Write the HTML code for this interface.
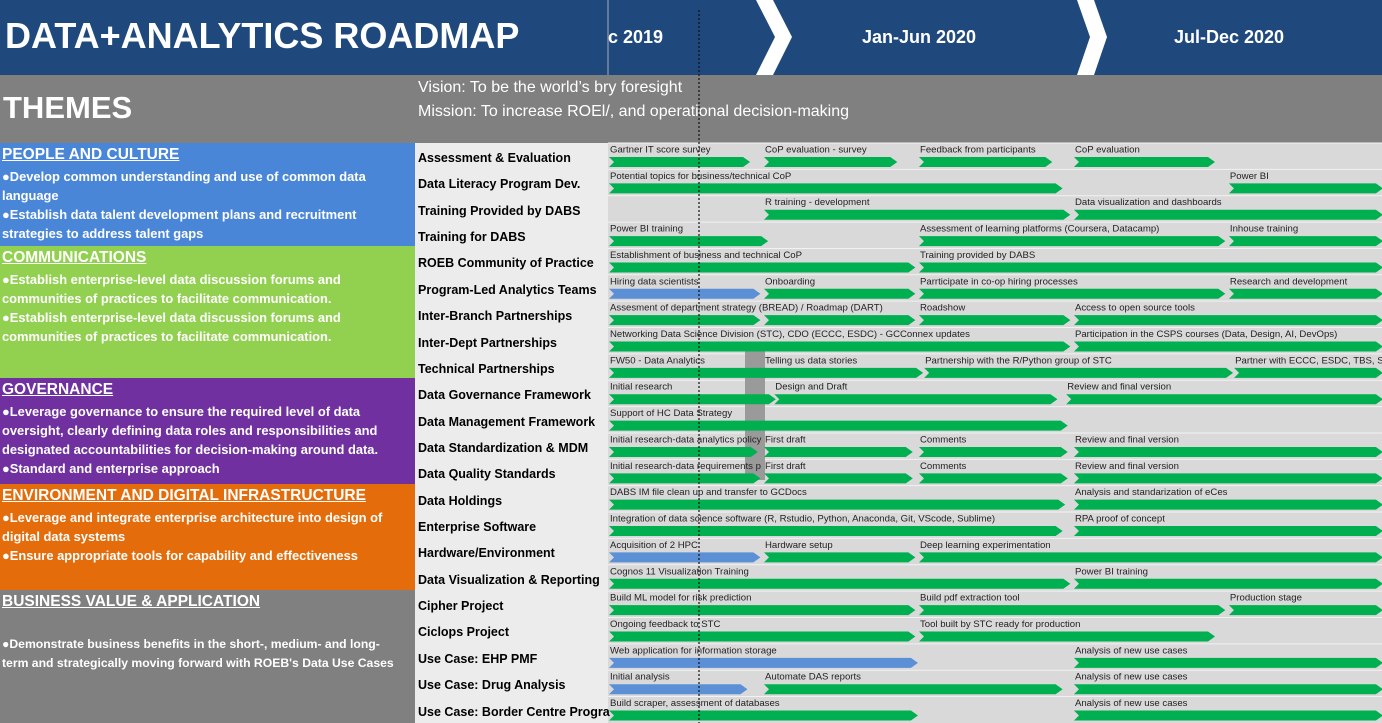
<!DOCTYPE html>
<html><head><meta charset="utf-8"><style>
body{margin:0;width:1382px;height:723px;overflow:hidden;font-family:"Liberation Sans",sans-serif;background:#d9d9d9;position:relative}
.abs{position:absolute}
.theme{position:absolute;left:0;width:405px;color:#fff;font-weight:bold;font-size:12.9px;line-height:19px;padding:2px 0 0 2px;box-sizing:border-box}
.theme h3{margin:0 0 2px 0;font-size:15.5px;text-decoration:underline;line-height:20px;white-space:nowrap}
.rl{position:absolute;left:418px;font-size:12.5px;font-weight:bold;color:#000;white-space:nowrap}
</style></head><body>
<div class="abs" style="left:0;top:0;width:1382px;height:75px;background:#1f497d"></div>
<div class="abs" style="left:5px;top:15px;color:#fff;font-weight:bold;font-size:36px">DATA+ANALYTICS ROADMAP</div>
<div class="abs" style="left:608px;top:27px;color:#fff;font-weight:bold;font-size:18px">c 2019</div>
<div class="abs" style="left:862px;top:27px;color:#fff;font-weight:bold;font-size:18px">Jan-Jun 2020</div>
<div class="abs" style="left:1174px;top:27px;color:#fff;font-weight:bold;font-size:18px">Jul-Dec 2020</div>
<svg class="abs" style="left:0;top:0" width="1382" height="723">
<polygon points="756,0 773,0 792,37 773,75 756,75 775,37" fill="#fff"/>
<polygon points="1077,0 1094,0 1107,37 1094,75 1077,75 1090,37" fill="#fff"/>
<line x1="608" y1="0" x2="608" y2="143" stroke="#aab" stroke-width="1"/>
</svg>
<div class="abs" style="left:0;top:75px;width:1382px;height:68px;background:#808080"></div>
<div class="abs" style="left:3px;top:90px;color:#fff;font-weight:bold;font-size:31px">THEMES</div>
<div class="abs" style="left:418px;top:79px;color:#fff;font-size:16px">Vision: To be the world’s bry foresight</div>
<div class="abs" style="left:418px;top:103px;color:#fff;font-size:16px">Mission: To increase ROEl/, and operational decision-making</div>

<div class="abs" style="left:415px;top:143px;width:193px;height:580px;background:#ececec"></div>

<div class="theme" style="top:143px;height:103px;width:415px;padding-right:30px;background:#4a86d8"><h3>PEOPLE AND CULTURE</h3>●Develop common understanding and use of common data language<br>●Establish data talent development plans and recruitment strategies to address talent gaps</div>
<div class="theme" style="top:246px;height:132px;width:415px;padding-right:70px;background:#92d050"><h3>COMMUNICATIONS</h3>●Establish enterprise-level data discussion forums and communities of practices to facilitate communication.<br>●Establish enterprise-level data discussion forums and communities of practices to facilitate communication.</div>
<div class="theme" style="top:378px;height:106px;width:415px;padding-right:35px;background:#7030a0"><h3>GOVERNANCE</h3>●Leverage governance to ensure the required level of data oversight, clearly defining data roles and responsibilities and designated accountabilities for decision-making around data.<br>●Standard and enterprise approach</div>
<div class="theme" style="top:484px;height:106px;width:415px;padding-right:25px;background:#e46c0a"><h3>ENVIRONMENT AND DIGITAL INFRASTRUCTURE</h3>●Leverage and integrate enterprise architecture into design of digital data systems<br>●Ensure appropriate tools for capability and effectiveness</div>
<div class="theme" style="top:590px;height:133px;width:415px;padding-right:0;font-size:12.2px;background:#808080"><h3>BUSINESS VALUE &amp; APPLICATION</h3><div style="height:21px"></div>●Demonstrate business benefits in the short-, medium- and long-<br>term and strategically moving forward with ROEB's Data Use Cases</div>

<div id="labels"></div>
<svg id="g" class="abs" style="left:0;top:0" width="1382" height="723"></svg>
<script>
const rowLabels=["Assessment & Evaluation","Data Literacy Program Dev.","Training Provided by DABS","Training for DABS","ROEB Community of Practice","Program-Led Analytics Teams","Inter-Branch Partnerships","Inter-Dept Partnerships","Technical Partnerships","Data Governance Framework","Data Management Framework","Data Standardization & MDM","Data Quality Standards","Data Holdings","Enterprise Software","Hardware/Environment","Data Visualization & Reporting","Cipher Project","Ciclops Project","Use Case: EHP PMF","Use Case: Drug Analysis","Use Case: Border Centre Progra"];
const taskRows=[0,0,0,0,1,1,2,2,3,3,3,4,4,5,5,5,5,6,6,6,6,7,7,8,8,8,8,9,9,9,10,11,11,11,11,12,12,12,12,13,13,14,14,15,15,15,16,16,17,17,17,18,18,19,19,20,20,20,21,21];
const taskStart=[0,6,12,18,0,24,6,18,0,12,24,0,12,0,6,12,24,0,6,12,18,0,18,0,6,12.2,24.2,0,6.4,17.7,0,0,6,12,18,0,6,12,18,0,18,0,18,0,6,12,0,18,0,12,24,0,12,0,18,0,6,18,0,18];
const taskEnd=[5.5,11.2,17.2,23.5,17.6,30,17.9,30,6.2,23.9,30,11.9,30,5.9,11.9,23.9,30,5.9,11.9,17.9,30,17.9,30,6.4,12.2,24.2,30,6.5,17.4,30,17.8,5.8,11.8,17.8,30,5.9,11.8,17.8,30,17.7,30,17.6,30,5.9,11.9,30,17.9,30,11.9,23.9,30,11.9,23.5,12,30,5.4,17.6,30,12,30];
const taskKind=["g","g","g","g","g","g","g","g","g","g","g","g","g","b","g","g","g","g","g","g","g","g","g","g","g","g","g","g","g","g","g","g","g","g","g","g","g","g","g","g","g","g","g","b","g","g","g","g","g","g","g","g","g","b","g","b","g","g","g","g"];
const taskLabel=["Gartner IT score survey","CoP evaluation - survey","Feedback from participants","CoP evaluation","Potential topics for business/technical CoP","Power BI","R training - development","Data visualization and dashboards","Power BI training","Assessment of learning platforms (Coursera, Datacamp)","Inhouse training","Establishment of business and technical CoP","Training provided by DABS","Hiring data scientists","Onboarding","Parrticipate in co-op hiring processes","Research and development","Assesment of department strategy (BREAD) / Roadmap (DART)","","Roadshow","Access to open source tools","Networking Data Science Division (STC), CDO (ECCC, ESDC) - GCConnex updates","Participation in the CSPS courses (Data, Design, AI, DevOps)","FW50 - Data Analytics","Telling us data stories","Partnership with the R/Python group of STC","Partner with ECCC, ESDC, TBS, STC C","Initial research","Design and Draft","Review and final version","Support of HC Data Strategy","Initial research-data analytics policy","First draft","Comments","Review and final version","Initial research-data requirements p","        First draft","Comments","Review and final version","DABS IM file clean up and transfer to GCDocs","Analysis and standarization of eCes","Integration of data science software (R, Rstudio, Python, Anaconda, Git, VScode, Sublime)","RPA proof  of concept","Acquisition of 2 HPC","Hardware setup","Deep learning experimentation","Cognos 11 Visualization Training","Power BI training","Build ML model for risk prediction","Build pdf extraction tool","Production stage","Ongoing feedback to STC","Tool built by STC ready for production","Web application for information storage","Analysis of new use cases","Initial analysis","Automate DAS reports","Analysis of new use cases","Build scraper, assessment of databases","Analysis of new use cases"];
const X0=608,PX=25.83,Y0=143,RH=26.36;
const xOf=m=>X0+m*PX, yOf=r=>Y0+r*RH;
const NS="http://www.w3.org/2000/svg";
const g=document.getElementById('g'), lab=document.getElementById('labels');
rowLabels.forEach((t,i)=>{
 const d=document.createElement('div');d.className='rl';d.style.top=(yOf(i)+8)+'px';d.textContent=t;
 
 
 lab.appendChild(d);
 const sep=document.createElementNS(NS,'line');
 sep.setAttribute('x1',X0);sep.setAttribute('x2',1382);sep.setAttribute('y1',yOf(i));sep.setAttribute('y2',yOf(i));
 sep.setAttribute('stroke','#f2f2f2');sep.setAttribute('stroke-width','1');
 
 
 g.appendChild(sep);
});
const gr=document.createElementNS(NS,'rect');
gr.setAttribute('x',745);gr.setAttribute('y',350);gr.setAttribute('width',20);gr.setAttribute('height',130);gr.setAttribute('fill','#9a9a9a');


g.appendChild(gr);
taskRows.forEach((r,i)=>{
 const x0=xOf(taskStart[i])+1,x1=Math.min(xOf(taskEnd[i]),1390),y=yOf(r);
 const t0=y+14,t1=y+24,ym=y+19;
 const p=document.createElementNS(NS,'polygon');
 p.setAttribute('points',`${x0},${t0} ${x1-7},${t0} ${x1},${ym} ${x1-7},${t1} ${x0},${t1} ${x0+5},${ym}`);
 p.setAttribute('fill',taskKind[i]==='b'?'#5b8fd6':'#00b050');
 
 
 g.appendChild(p);
 const tx=document.createElementNS(NS,'text');
 tx.setAttribute('x',x0+1);tx.setAttribute('y',y+9.5);tx.setAttribute('font-size','9.6');tx.setAttribute('fill','#222');
 tx.setAttribute('font-family','Liberation Sans, sans-serif');tx.setAttribute('xml:space','preserve');
 tx.textContent=taskLabel[i];
 
 
 g.appendChild(tx);
});
const dl=document.createElementNS(NS,'line');
dl.setAttribute('x1',699);dl.setAttribute('x2',699);dl.setAttribute('y1',10);dl.setAttribute('y2',723);
dl.setAttribute('stroke','#111');dl.setAttribute('stroke-dasharray','2,2');dl.setAttribute('stroke-width','1.2');


g.appendChild(dl);
</script>
</body></html>
